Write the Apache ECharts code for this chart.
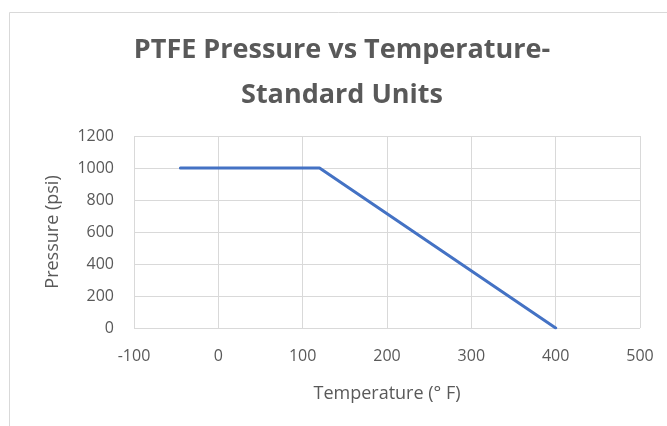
<!DOCTYPE html>
<html lang="en">
<head>
    <meta charset="UTF-8">
    <title>PTFE Pressure vs Temperature</title>
    <script type="text/javascript" src="https://cdn.jsdelivr.net/npm/echarts@6/dist/echarts.min.js"></script>
    <style>
        html, body { margin: 0; padding: 0; background: #fff; }
    </style>
</head>
<body>
  <div id="main" style="width: 667px;height: 426px;"></div>
</body>
<script>
    // data
    var temperatures = [-45, 120, 400];
    var pressures = [1000, 1000, 0];
    var xTicks = [-100, 500, 100];   // min, max, interval
    var yTicks = [0, 1200, 200];

    var points = [];
    for (var i = 0; i < temperatures.length; i++) {
        points.push([temperatures[i], pressures[i]]);
    }

    var myChart = echarts.init(document.getElementById('main'));
    var labelColor = '#595959';
    var fontFam = '"Open Sans", "Liberation Sans", sans-serif';

    var option = {
        backgroundColor: '#fff',
        animation: false,
        title: {
            text: 'PTFE Pressure vs Temperature-\nStandard Units',
            // chart frame runs past the right edge, so its centre sits a bit right
            left: 337,
            textAlign: 'center',
            top: 23,
            textStyle: {
                color: labelColor,
                fontSize: 27,
                fontWeight: 'bold',
                fontFamily: fontFam,
                lineHeight: 45
            }
        },
        graphic: [{
            type: 'rect',
            left: 7,
            top: 10,
            shape: { width: 700, height: 500 },
            style: { fill: 'none', stroke: '#d9d9d9', lineWidth: 1 },
            silent: true
        }],
        grid: {
            left: 134,
            right: 27,
            top: 136,
            bottom: 98
        },
        xAxis: {
            type: 'value',
            min: xTicks[0],
            max: xTicks[1],
            interval: xTicks[2],
            name: 'Temperature (° F)',
            nameLocation: 'middle',
            nameGap: 57,
            nameTextStyle: { color: labelColor, fontSize: 18, fontFamily: fontFam },
            axisLine: { show: false },
            axisTick: { show: false },
            axisLabel: { color: labelColor, fontSize: 16, margin: 20, fontFamily: fontFam },
            splitLine: { show: true, lineStyle: { color: '#d9d9d9', width: 1 } }
        },
        yAxis: {
            type: 'value',
            min: yTicks[0],
            max: yTicks[1],
            interval: yTicks[2],
            name: 'Pressure (psi)',
            nameLocation: 'middle',
            nameGap: 72,
            nameTextStyle: { color: labelColor, fontSize: 18, fontFamily: fontFam },
            axisLine: { show: false },
            axisTick: { show: false },
            axisLabel: {
                color: labelColor, fontSize: 16, margin: 20, fontFamily: fontFam,
                formatter: function (v) { return String(v); }
            },
            splitLine: { show: true, lineStyle: { color: '#d9d9d9', width: 1 } }
        },
        series: [{
            type: 'line',
            data: points,
            showSymbol: false,
            lineStyle: { color: '#4472C4', width: 3, cap: 'round' }
        }]
    };

    myChart.setOption(option);
</script>
</html>
